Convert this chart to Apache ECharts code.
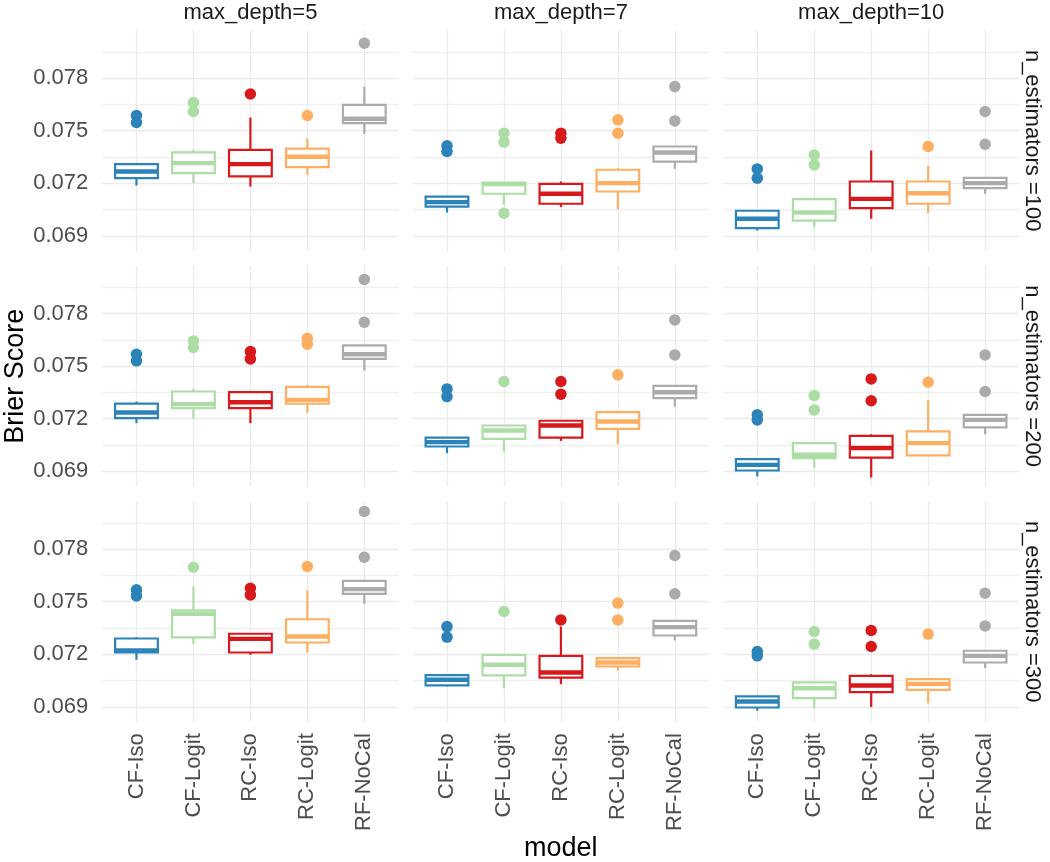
<!DOCTYPE html>
<html><head><meta charset="utf-8">
<script src="https://cdn.jsdelivr.net/npm/echarts@6/dist/echarts.min.js"></script>
<style>html,body{margin:0;padding:0;background:#fff}#c{width:1050px;height:862px}</style>
</head><body><div id="c"></div><script>
const models = ['CF-Iso','CF-Logit','RC-Iso','RC-Logit','RF-NoCal'];
const depthLabels = ['max_depth=5','max_depth=7','max_depth=10'];
const estLabels = ['n_estimators =100','n_estimators =200','n_estimators =300'];
const yTickLabels = [0.069,0.072,0.075,0.078];
const yMinorTicks = [0.0705,0.0735,0.0765,0.0795];
const colors = ['#2b83ba','#abdda4','#d7191c','#fdae61','#ababab'];

// box stats per model: [lower whisker, Q1, median, Q3, upper whisker]
const box_d5_n100  = [[0.07187,0.07229,0.07267,0.07309,0.07310],[0.07201,0.07258,0.07315,0.07376,0.07391],[0.07181,0.07239,0.07309,0.07391,0.07575],[0.07248,0.07292,0.07351,0.07398,0.07457],[0.07482,0.07543,0.07568,0.07648,0.07752]];
const box_d7_n100  = [[0.07033,0.07067,0.07092,0.07124,0.07124],[0.07077,0.07140,0.07195,0.07204,0.07204],[0.07064,0.07083,0.07140,0.07197,0.07210],[0.07052,0.07153,0.07201,0.07277,0.07286],[0.07282,0.07324,0.07376,0.07410,0.07410]];
const box_d10_n100 = [[0.06930,0.06944,0.06997,0.07043,0.07043],[0.06949,0.06987,0.07033,0.07109,0.07109],[0.06997,0.07058,0.07111,0.07210,0.07387],[0.07029,0.07083,0.07143,0.07210,0.07299],[0.07140,0.07172,0.07201,0.07231,0.07231]];
const box_d5_n200  = [[0.07174,0.07203,0.07235,0.07286,0.07298],[0.07199,0.07260,0.07283,0.07355,0.07370],[0.07174,0.07260,0.07294,0.07351,0.07351],[0.07235,0.07285,0.07307,0.07382,0.07393],[0.07475,0.07541,0.07568,0.07618,0.07618]];
const box_d7_n200  = [[0.07003,0.07041,0.07066,0.07092,0.07092],[0.07012,0.07085,0.07132,0.07161,0.07161],[0.07073,0.07092,0.07161,0.07188,0.07188],[0.07054,0.07142,0.07184,0.07237,0.07237],[0.07269,0.07317,0.07351,0.07387,0.07387]];
const box_d10_n200 = [[0.06870,0.06904,0.06936,0.06969,0.06969],[0.06921,0.06975,0.06994,0.07060,0.07060],[0.06864,0.06978,0.07032,0.07102,0.07111],[0.06984,0.06990,0.07060,0.07127,0.07307],[0.07111,0.07150,0.07193,0.07222,0.07222]];
const box_d5_n300  = [[0.07168,0.07210,0.07222,0.07290,0.07298],[0.07260,0.07296,0.07431,0.07450,0.07587],[0.07197,0.07210,0.07288,0.07317,0.07317],[0.07210,0.07267,0.07301,0.07400,0.07564],[0.07488,0.07545,0.07572,0.07619,0.07619]];
const box_d7_n300  = [[0.07016,0.07022,0.07054,0.07081,0.07081],[0.07006,0.07079,0.07140,0.07197,0.07197],[0.07029,0.07067,0.07096,0.07191,0.07358],[0.07107,0.07130,0.07153,0.07178,0.07178],[0.07279,0.07307,0.07355,0.07391,0.07391]];
const box_d10_n300 = [[0.06877,0.06896,0.06930,0.06959,0.06959],[0.06892,0.06949,0.07006,0.07039,0.07039],[0.06898,0.06984,0.07022,0.07077,0.07086],[0.06921,0.06997,0.07031,0.07058,0.07058],[0.07121,0.07153,0.07191,0.07220,0.07220]];

// outliers per model
const out_d5_n100  = [[0.07587,0.07547],[0.07661,0.07610],[0.07710],[0.07587],[0.08000]];
const out_d7_n100  = [[0.07414,0.07381],[0.07029,0.07486,0.07435],[0.07486,0.07457],[0.07562,0.07486],[0.07752,0.07556]];
const out_d10_n100 = [[0.07282,0.07229],[0.07362,0.07305],[],[0.07410],[0.07610,0.07423]];
const out_d5_n200  = [[0.07568,0.07530],[0.07644,0.07606],[0.07583,0.07541],[0.07659,0.07625],[0.07751,0.07995]];
const out_d7_n200  = [[0.07370,0.07326],[0.07412],[0.07412,0.07340],[0.07450],[0.07764,0.07564]];
const out_d10_n200 = [[0.07222,0.07193],[0.07332,0.07250],[0.07427,0.07302],[0.07408],[0.07564,0.07355]];
const out_d5_n300  = [[0.07568,0.07533],[0.07697],[0.07577,0.07539],[0.07701],[0.07754,0.08015]];
const out_d7_n300  = [[0.07358,0.07298],[0.07444],[0.07396],[0.07492,0.07396],[0.07764,0.07545]];
const out_d10_n300 = [[0.07216,0.07191],[0.07330,0.07258],[0.07336,0.07244],[0.07315],[0.07549,0.07362]];

const boxes = [box_d5_n100,box_d7_n100,box_d10_n100,box_d5_n200,box_d7_n200,box_d10_n200,box_d5_n300,box_d7_n300,box_d10_n300];
const outs  = [out_d5_n100,out_d7_n100,out_d10_n100,out_d5_n200,out_d7_n200,out_d10_n200,out_d5_n300,out_d7_n300,out_d10_n300];

const colLeft = [102.3, 412.8, 723.1];
const rowTop = [30.2, 265.6, 501.2];
const panelW = 296.2, panelH = 221;
const FONT = '"Liberation Sans", Arial, Helvetica, sans-serif';
const yMin = 0.06812, yMax = 0.08074;
const halfBox = 0.375;

function renderBox(params, api) {
  const x = api.value(0), mn = api.value(1), q1 = api.value(2), md = api.value(3), q3 = api.value(4), mx = api.value(5);
  const c = colors[params.dataIndex];
  const tl = api.coord([x - halfBox, q3]), br = api.coord([x + halfBox, q1]);
  const pMax = api.coord([x, mx]), pQ3 = api.coord([x, q3]), pQ1 = api.coord([x, q1]), pMin = api.coord([x, mn]);
  const ml = api.coord([x - halfBox, md]), mr = api.coord([x + halfBox, md]);
  return {type: 'group', children: [
    {type: 'line', shape: {x1: pMax[0], y1: pMax[1], x2: pQ3[0], y2: pQ3[1]}, style: {stroke: c, lineWidth: 2.2}},
    {type: 'line', shape: {x1: pQ1[0], y1: pQ1[1], x2: pMin[0], y2: pMin[1]}, style: {stroke: c, lineWidth: 2.2}},
    {type: 'rect', shape: {x: tl[0], y: tl[1], width: br[0] - tl[0], height: br[1] - tl[1]}, style: {fill: '#ffffff', stroke: c, lineWidth: 2.2}},
    {type: 'line', shape: {x1: ml[0], y1: ml[1], x2: mr[0], y2: mr[1]}, style: {stroke: c, lineWidth: 4.4}}
  ]};
}

const grid = [], xAxis = [], yAxis = [], series = [];
const allYTicks = yTickLabels.concat(yMinorTicks).sort((a, b) => a - b);
for (let r = 0; r < 3; r++) {
  for (let c = 0; c < 3; c++) {
    const g = r * 3 + c;
    grid.push({left: colLeft[c], top: rowTop[r], width: panelW, height: panelH});
    xAxis.push({
      type: 'value', gridIndex: g, min: 0.4, max: 5.6,
      axisLine: {show: false},
      axisTick: {show: false, customValues: [1, 2, 3, 4, 5]},
      axisLabel: {show: r === 2, customValues: [1, 2, 3, 4, 5], formatter: v => models[Math.round(v) - 1],
        rotate: 90, fontSize: 22, color: '#4d4d4d', fontFamily: FONT, margin: 11},
      splitLine: {show: true, lineStyle: {color: '#ebebeb', width: 1.3}}
    });
    yAxis.push({
      type: 'value', gridIndex: g, min: yMin, max: yMax,
      axisLine: {show: false},
      axisTick: {show: false, customValues: allYTicks},
      axisLabel: {show: c === 0, customValues: yTickLabels, formatter: v => v.toFixed(3),
        fontSize: 22, color: '#4d4d4d', fontFamily: FONT, margin: 14},
      splitLine: {show: true, lineStyle: {color: ['#ebebeb', '#f0f0f0'], width: 1.3}}
    });
    series.push({
      type: 'custom', xAxisIndex: g, yAxisIndex: g, z: 3,
      data: boxes[g].map((b, i) => [i + 1].concat(b)),
      encode: {x: 0, y: [1, 2, 3, 4, 5]},
      renderItem: renderBox, silent: true
    });
    const pts = [];
    outs[g].forEach((arr, i) => arr.forEach(v => pts.push({value: [i + 1, v], itemStyle: {color: colors[i], opacity: 1}})));
    series.push({
      type: 'scatter', xAxisIndex: g, yAxisIndex: g, z: 4, symbolSize: 11.5,
      itemStyle: {opacity: 1}, data: pts, silent: true
    });
  }
}

const graphic = [];
for (let c = 0; c < 3; c++) {
  graphic.push({type: 'text', x: colLeft[c] + panelW / 2, y: 13,
    style: {text: depthLabels[c], font: '22px ' + FONT, fill: '#1a1a1a', align: 'center', verticalAlign: 'middle', textAlign: 'center', textVerticalAlign: 'middle'}});
}
for (let r = 0; r < 3; r++) {
  graphic.push({type: 'text', x: 1032, y: rowTop[r] + panelH / 2, rotation: -Math.PI / 2,
    style: {text: estLabels[r], font: '22px ' + FONT, fill: '#1a1a1a', align: 'center', verticalAlign: 'middle', textAlign: 'center', textVerticalAlign: 'middle'}});
}
graphic.push({type: 'text', x: 16, y: (rowTop[0] + rowTop[2] + panelH) / 2, rotation: Math.PI / 2,
  style: {text: 'Brier Score', font: '27px ' + FONT, fill: '#000000', align: 'center', verticalAlign: 'middle', textAlign: 'center', textVerticalAlign: 'middle'}});
graphic.push({type: 'text', x: (colLeft[0] + colLeft[2] + panelW) / 2, y: 849,
  style: {text: 'model', font: '27px ' + FONT, fill: '#000000', align: 'center', verticalAlign: 'middle', textAlign: 'center', textVerticalAlign: 'middle'}});

const chart = echarts.init(document.getElementById('c'), null, {renderer: 'canvas'});
chart.setOption({
  animation: false,
  backgroundColor: '#ffffff',
  grid, xAxis, yAxis, series, graphic
});
</script></body></html>
